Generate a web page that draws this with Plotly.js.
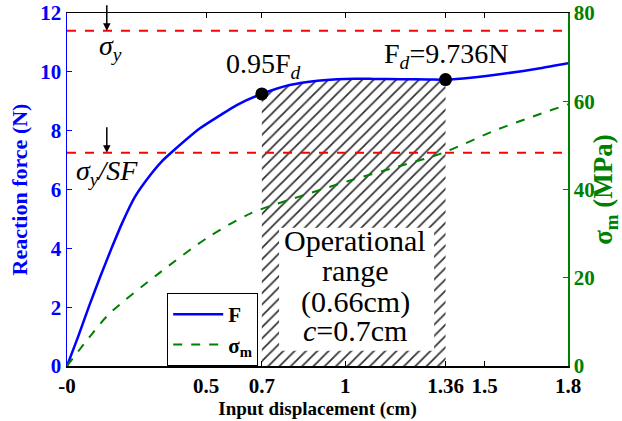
<!DOCTYPE html>
<html>
<head>
<meta charset="utf-8">
<script src="https://cdn.plot.ly/plotly-3.0.1.min.js"></script>
<style>html,body{margin:0;padding:0;background:#fff;}#chart{width:622px;height:421px;}</style>
</head>
<body>
<div id="chart"></div>
<script>
// Reaction force F (N) vs input displacement (cm)
var dispF = [0, 0.04, 0.08, 0.12, 0.16, 0.20, 0.244, 0.30, 0.34, 0.38, 0.478, 0.55, 0.61, 0.70, 0.80, 0.90, 1.00, 1.10, 1.20, 1.30, 1.36, 1.45, 1.58, 1.70, 1.80];
var forceF = [0, 1.0, 2.05, 3.05, 4.0, 4.9, 5.75, 6.5, 6.95, 7.3, 8.08, 8.52, 8.87, 9.249, 9.55, 9.70, 9.76, 9.76, 9.75, 9.74, 9.736, 9.80, 9.95, 10.12, 10.29];
// Stress sigma_m (MPa) vs input displacement (cm)
var dispS = [0, 0.08, 0.15, 0.33, 0.51, 0.66, 0.84, 1.02, 1.19, 1.35, 1.55, 1.8];
var stressS = [0, 6.5, 11.7, 21.0, 29.3, 34.6, 38.5, 42.1, 45.2, 48.3, 53.7, 59.3];
// Operational range and key points
var opStart = 0.7, opEnd = 1.36;
var keyX = [0.7, 1.36];
var keyF = [9.249, 9.736];
// Yield limits (on force axis scale)
var sigmaYLevel = 11.4;
var sigmaYSFLevel = 7.25;
// Tick labels
var xTickVals = [0, 0.5, 0.7, 1, 1.36, 1.5, 1.8];
var xTickText = ['-0', '0.5', '0.7', '1', '1.36', '1.5', '1.8'];
var yTickVals = [0, 2, 4, 6, 8, 10, 12];
var y2TickVals = [0, 20, 40, 60, 80];

var hatchX = [opStart], hatchY = [keyF[0]];
for (var i = 0; i < dispF.length; i++) {
  if (dispF[i] > opStart && dispF[i] < opEnd) { hatchX.push(dispF[i]); hatchY.push(forceF[i]); }
}
hatchX.push(opEnd); hatchY.push(keyF[1]);

var serif = 'Liberation Serif, Times New Roman, serif';
var blue = '#0000ff', green = '#008000', red = '#ff0000';

var traces = [
  {x: hatchX, y: hatchY, type: 'scatter', mode: 'lines', fill: 'tozeroy', line: {width: 0, color: 'rgba(0,0,0,0)', shape: 'spline', smoothing: 0.6},
   fillcolor: 'white', fillpattern: {shape: '/', bgcolor: 'white', fgcolor: '#333', size: 8, solidity: 0.22},
   showlegend: false, hoverinfo: 'skip', xaxis: 'x', yaxis: 'y'},
  {x: dispF, y: forceF, type: 'scatter', mode: 'lines', name: '<b>F</b>', line: {color: blue, width: 2.5, shape: 'spline', smoothing: 0.6}, xaxis: 'x', yaxis: 'y'},
  {x: dispS, y: stressS, type: 'scatter', mode: 'lines', name: '<b>σ<sub>m</sub></b>', line: {color: green, width: 2, dash: 'dash', shape: 'spline', smoothing: 0.8}, xaxis: 'x', yaxis: 'y2'},
  {x: keyX, y: keyF, type: 'scatter', mode: 'markers', marker: {color: 'black', size: 13}, showlegend: false, xaxis: 'x', yaxis: 'y'}
];

var annFont = {family: serif, size: 28, color: 'black'};
var boxFont = {family: serif, size: 30, color: 'black'};
var layout = {
  width: 622, height: 421,
  margin: {l: 67, r: 54, t: 13, b: 55},
  paper_bgcolor: 'white', plot_bgcolor: 'white',
  font: {family: serif, size: 19, color: 'black'},
  showlegend: true,
  legend: {x: 0.2, y: 0, xanchor: 'left', yanchor: 'bottom', bgcolor: 'white', bordercolor: 'black', borderwidth: 1,
           font: {family: serif, size: 21, color: 'black'}, tracegroupgap: 0, itemwidth: 50},
  xaxis: {range: [0, 1.8], tickvals: xTickVals, ticktext: xTickText, ticks: 'inside', ticklen: 5, tickcolor: 'black',
          showline: true, linecolor: 'black', linewidth: 1.5, mirror: 'ticks', showgrid: false, zeroline: false,
          tickfont: {family: serif, size: 21, color: 'black', weight: 'bold'},
          title: {text: '<b>Input displacement (cm)</b>', font: {family: serif, size: 19, color: 'black'}, standoff: 4}},
  yaxis: {range: [0, 12], tickvals: yTickVals, ticks: 'inside', ticklen: 5, tickcolor: blue,
          showline: true, linecolor: blue, linewidth: 1.5, showgrid: false, zeroline: false,
          tickfont: {family: serif, size: 21, color: blue, weight: 'bold'},
          title: {text: '<b>Reaction force (N)</b>', font: {family: serif, size: 22, color: blue}, standoff: 6}},
  yaxis2: {range: [0, 80], tickvals: y2TickVals, overlaying: 'y', side: 'right', ticks: 'inside', ticklen: 5, tickcolor: green,
           showline: true, linecolor: green, linewidth: 1.5, showgrid: false, zeroline: false,
           tickfont: {family: serif, size: 21, color: green, weight: 'bold'},
           title: {text: '<b>σ<sub>m</sub> (MPa)</b>', font: {family: serif, size: 27, color: green}, standoff: 2}},
  shapes: [
    {type: 'line', xref: 'paper', yref: 'y', x0: 0, x1: 1, y0: sigmaYLevel, y1: sigmaYLevel, line: {color: red, width: 2, dash: 'dash'}, layer: 'above'},
    {type: 'line', xref: 'paper', yref: 'y', x0: 0, x1: 1, y0: sigmaYSFLevel, y1: sigmaYSFLevel, line: {color: red, width: 2, dash: 'dash'}, layer: 'above'},
    {type: 'rect', xref: 'x', yref: 'y', x0: 0.762, x1: 1.319, y0: 0.52, y1: 4.70, fillcolor: 'white', line: {width: 0}, layer: 'above'}
  ],
  annotations: [
    {x: 0.143, y: sigmaYLevel, xref: 'x', yref: 'y', text: '', showarrow: true, ax: 0, ay: -27, arrowhead: 2, arrowsize: 1, arrowwidth: 1.5, arrowcolor: 'black', standoff: 0},
    {x: 0.143, y: sigmaYSFLevel, xref: 'x', yref: 'y', text: '', showarrow: true, ax: 0, ay: -27, arrowhead: 2, arrowsize: 1, arrowwidth: 1.5, arrowcolor: 'black', standoff: 0},
    {x: 0.155, y: 10.84, xref: 'x', yref: 'y', text: '<i>σ<sub>y</sub></i>', showarrow: false, font: annFont},
    {x: 0.143, y: 6.59, xref: 'x', yref: 'y', text: '<i>σ<sub>y</sub>/SF</i>', showarrow: false, font: annFont},
    {x: 0.706, y: 10.2, xref: 'x', yref: 'y', text: '0.95F<sub><i>d</i></sub>', showarrow: false, font: annFont},
    {x: 1.36, y: 10.55, xref: 'x', yref: 'y', text: 'F<sub><i>d</i></sub>=9.736N', showarrow: false, font: annFont},
    {x: 1.035, y: 4.25, xref: 'x', yref: 'y', text: 'Operational', showarrow: false, font: boxFont},
    {x: 1.035, y: 3.25, xref: 'x', yref: 'y', text: 'range', showarrow: false, font: boxFont},
    {x: 1.035, y: 2.17, xref: 'x', yref: 'y', text: '(0.66cm)', showarrow: false, font: boxFont},
    {x: 1.035, y: 1.21, xref: 'x', yref: 'y', text: '<i>c</i>=0.7cm', showarrow: false, font: boxFont}
  ]
};

Plotly.newPlot('chart', traces, layout, {staticPlot: true, displayModeBar: false});
</script>
</body>
</html>
